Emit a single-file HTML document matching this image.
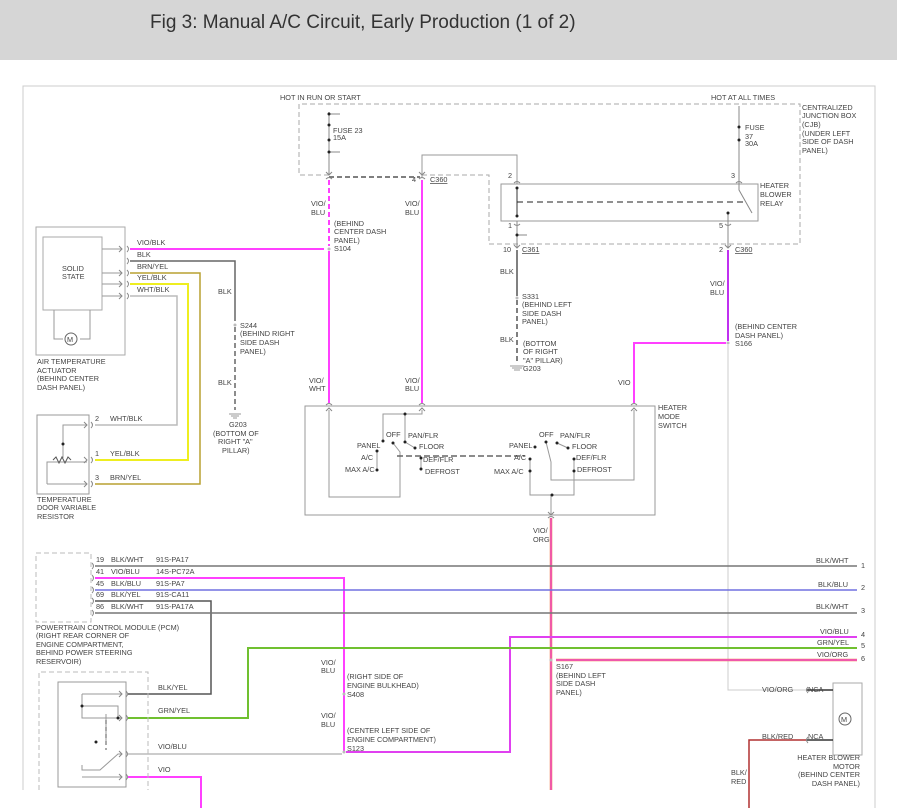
<!DOCTYPE html>
<html><head><meta charset="utf-8"><style>
html,body{margin:0;padding:0;background:#fff;}
.hdr{position:absolute;left:0;top:0;width:897px;height:60px;background:#d6d6d6;}
.hdr span{position:absolute;left:150px;top:12px;font:19px "Liberation Sans",sans-serif;color:#333;}
svg{position:absolute;left:0;top:0;}
text{font-family:"Liberation Sans",sans-serif;font-size:7.3px;fill:#444;}
</style></head><body>
<div class="hdr"><span>Fig 3: Manual A/C Circuit, Early Production (1 of 2)</span></div>
<svg width="897" height="808" viewBox="0 0 897 808">
<g fill="none" stroke-width="1">
<path d="M23 790 V86 H875 V808" stroke="#ccc"/>
<path d="M329 175 H299 V104 H800 V244 H489 V175 H420" stroke="#aaa" stroke-dasharray="5,3"/>
<path d="M329 177 H420" stroke="#555" stroke-width="1.5" stroke-dasharray="5,3"/>
<path d="M329 112 V175 M329 114 H340 M329 152 H340" stroke="#888"/>
<path d="M422 178 V155 H517 V184" stroke="#999"/>
<path d="M329 180 V246" stroke="#ff40ff" stroke-width="2" stroke-dasharray="5,3"/>
<path d="M329 251 V403" stroke="#ff40ff" stroke-width="2"/>
<path d="M422 180 V403" stroke="#ff40ff" stroke-width="2"/>
<rect x="501" y="184" width="257" height="37" stroke="#999"/>
<path d="M517 188 V216" stroke="#333"/>
<path d="M517 202 H745" stroke="#222" stroke-dasharray="6,4"/>
<path d="M739 106 V190 L752 213 M728 213 V248 M517 221 V248 M517 235 H527" stroke="#888"/>
<path d="M517 250 V296" stroke="#555" stroke-width="1.5"/>
<path d="M517 300 V363" stroke="#555" stroke-width="1.5" stroke-dasharray="5,3"/>
<path d="M510 366 H524 M512 368 H522 M514 370 H520" stroke="#999"/>
<path d="M728 250 V341" stroke="#c030f0" stroke-width="2"/>
<path d="M726 343 H634 V403" stroke="#ff40ff" stroke-width="2"/>
<path d="M728 345 V690 H806" stroke="#ccc"/>
<rect x="36" y="227" width="89" height="128" stroke="#aaa"/>
<rect x="43" y="237" width="59" height="73" stroke="#aaa"/>
<path d="M54 310 V339 H63 M90 310 V339 H80 M102 249 H122 M102 273 H122 M102 284 H122 M102 296 H122" stroke="#999"/>
<circle cx="71" cy="339" r="6" stroke="#666"/>
<path d="M130 249 H324" stroke="#ff40ff" stroke-width="2"/>
<path d="M130 261 H235 V321" stroke="#666" stroke-width="1.5"/>
<path d="M235 327 V410" stroke="#666" stroke-width="1.5" stroke-dasharray="5,3"/>
<path d="M229 414 H241 M231 416 H239 M233 418 H237" stroke="#999"/>
<path d="M130 273 H200 V484 H95" stroke="#b8a030" stroke-width="1.5"/>
<path d="M130 284 H188 V460 H95" stroke="#eeee20" stroke-width="2"/>
<path d="M130 296 H177 V425 H95" stroke="#bbb" stroke-width="1.5"/>
<rect x="37" y="415" width="52" height="79" stroke="#999"/>
<path d="M87 425 H63 V458 M47 484 H87 M47 484 V462 H87" stroke="#999"/>
<path d="M53 460 l3 -3 l3 6 l3 -6 l3 6 l3 -6 l3 3" stroke="#555"/>
<rect x="305" y="406" width="350" height="109" stroke="#999"/>
<path d="M329 410 V497 H400 V452 L393 443 M422 410 V414 H383 V441 M405 414 V442 L415 448" stroke="#999"/>
<path d="M397 456 H525" stroke="#666" stroke-width="1.5" stroke-dasharray="6,3"/>
<path d="M377 451 V470 M421 458 V469" stroke="#999"/>
<path d="M634 410 V480 H551 V462 L546 442 M530 459 V495 H574 V459 M551 495 V515 M557 443 L568 448" stroke="#999"/>
<path d="M551 518 V790" stroke="#f08050" stroke-width="2.5"/>
<path d="M551 518 V790" stroke="#f040e0" stroke-width="1.2"/>
<rect x="36" y="553" width="55" height="69" stroke="#bbb" stroke-dasharray="5,3"/>
<path d="M95 566 H857" stroke="#777" stroke-width="1.5"/>
<path d="M95 578 H344 V752" stroke="#ff40ff" stroke-width="2"/>
<path d="M95 590 H857" stroke="#7070e0" stroke-width="1.5"/>
<path d="M95 601 H211 V694 H128" stroke="#555" stroke-width="1.5"/>
<path d="M95 613 H857" stroke="#777" stroke-width="1.5"/>
<path d="M857 637 H510 V752 H346" stroke="#e040f0" stroke-width="2"/>
<path d="M857 648 H248 V718 H128" stroke="#70c030" stroke-width="2"/>
<path d="M857 660 H556" stroke="#f08050" stroke-width="2.5"/>
<path d="M857 660 H556" stroke="#f040e0" stroke-width="1.2"/>
<path d="M128 754 H342" stroke="#bbb" stroke-width="1.5"/>
<path d="M128 777 H201 V808" stroke="#ff40ff" stroke-width="2"/>
<path d="M39 790 V672 H148 V790" stroke="#bbb" stroke-dasharray="5,3"/>
<rect x="58" y="682" width="68" height="105" stroke="#999"/>
<path d="M82 694 H122 M82 694 V718 H122 M82 706 H118 V718 M106 714 V744 M82 765 V770 H100 L118 754 H122 M82 777 H122" stroke="#999"/>
<path d="M106 720 V750" stroke="#555" stroke-dasharray="4,3"/>
<rect x="833" y="683" width="29" height="72" stroke="#aaa"/>
<circle cx="845" cy="719" r="6" stroke="#666"/>
<path d="M806 690 H833 M806 740 H833" stroke="#333" stroke-width="1.5"/>
<path d="M806 740 H749 V808" stroke="#b03030" stroke-width="1.5"/>
<!-- chevrons -->
<g stroke="#888">
<path d="M326 172 l3 3 l3 -3 M326 179 q3 -3 6 0 M419 172 l3 3 l3 -3 M419 179 q3 -3 6 0"/>
<path d="M514 183 q3 -3 6 0 M736 183 q3 -3 6 0 M514 224 q3 3 6 0 M725 224 q3 3 6 0"/>
<path d="M514 245 l3 3 l3 -3 M725 245 l3 3 l3 -3"/>
<path d="M326 405 q3 -3 6 0 M326 411 l3 -3 l3 3 M419 405 q3 -3 6 0 M419 411 l3 -3 l3 3 M631 405 q3 -3 6 0 M631 411 l3 -3 l3 3"/>
<path d="M548 512 l3 3 l3 -3 M548 518 q3 -3 6 0"/>
<path d="M119 246 l3 3 l-3 3 M119 270 l3 3 l-3 3 M119 281 l3 3 l-3 3 M119 293 l3 3 l-3 3 M127 246 q3 3 0 6 M127 258 q3 3 0 6 M127 270 q3 3 0 6 M127 281 q3 3 0 6 M127 293 q3 3 0 6"/>
<path d="M84 422 l3 3 l-3 3 M84 457 l3 3 l-3 3 M84 481 l3 3 l-3 3 M91 422 q3 3 0 6 M91 457 q3 3 0 6 M91 481 q3 3 0 6"/>
<path d="M92 563 q3 3 0 6 M92 575 q3 3 0 6 M92 587 q3 3 0 6 M92 598 q3 3 0 6 M92 610 q3 3 0 6"/>
<path d="M119 691 l3 3 l-3 3 M119 715 l3 3 l-3 3 M119 751 l3 3 l-3 3 M119 774 l3 3 l-3 3 M126 691 q3 3 0 6 M126 715 q3 3 0 6 M126 751 q3 3 0 6 M126 774 q3 3 0 6"/>
<path d="M808 687 q-3 3 0 6 M808 737 q-3 3 0 6"/>
</g>
</g>
<g fill="#222">
<circle cx="329" cy="114" r="1.5"/><circle cx="329" cy="125" r="1.5"/><circle cx="329" cy="140" r="1.5"/><circle cx="329" cy="152" r="1.5"/>
<circle cx="739" cy="127" r="1.5"/><circle cx="739" cy="140" r="1.5"/><circle cx="517" cy="188" r="1.5"/><circle cx="517" cy="216" r="1.5"/><circle cx="728" cy="213" r="1.5"/><circle cx="517" cy="235" r="1.5"/>
<circle cx="63" cy="444" r="1.5"/>
<circle cx="383" cy="441" r="1.5"/><circle cx="377" cy="451" r="1.5"/><circle cx="377" cy="470" r="1.5"/><circle cx="393" cy="443" r="1.5"/><circle cx="405" cy="414" r="1.5"/><circle cx="405" cy="442" r="1.5"/><circle cx="415" cy="448" r="1.5"/><circle cx="421" cy="458" r="1.5"/><circle cx="421" cy="469" r="1.5"/>
<circle cx="535" cy="447" r="1.5"/><circle cx="546" cy="442" r="1.5"/><circle cx="557" cy="443" r="1.5"/><circle cx="568" cy="448" r="1.5"/><circle cx="530" cy="459" r="1.5"/><circle cx="530" cy="471" r="1.5"/><circle cx="574" cy="459" r="1.5"/><circle cx="574" cy="471" r="1.5"/><circle cx="552" cy="495" r="1.5"/>
<circle cx="82" cy="706" r="1.5"/><circle cx="118" cy="718" r="1.5"/><circle cx="96" cy="742" r="1.5"/>
</g>
<g fill="#bbb"><circle cx="329" cy="249" r="1.5"/><circle cx="235" cy="325" r="1.5"/><circle cx="517" cy="298" r="1.5"/><circle cx="728" cy="343" r="1.5"/><circle cx="344" cy="694" r="1.5"/><circle cx="344" cy="752" r="1.5"/><circle cx="551" cy="660" r="1.5"/></g>
<text x="280" y="100">HOT IN RUN OR START</text>
<text x="333" y="133">FUSE 23</text><text x="333" y="140">15A</text>
<text x="311" y="206">VIO/</text><text x="311" y="215">BLU</text>
<text x="334" y="226">(BEHIND</text><text x="334" y="234">CENTER DASH</text><text x="334" y="243">PANEL)</text><text x="334" y="251">S104</text>
<text x="405" y="206">VIO/</text><text x="405" y="215">BLU</text>
<text x="412" y="182">4</text><text x="430" y="182" text-decoration="underline">C360</text>
<text x="711" y="100">HOT AT ALL TIMES</text>
<text x="745" y="130">FUSE</text><text x="745" y="139">37</text><text x="745" y="146">30A</text>
<text x="802" y="110">CENTRALIZED</text><text x="802" y="118">JUNCTION BOX</text><text x="802" y="127">(CJB)</text><text x="802" y="136">(UNDER LEFT</text><text x="802" y="144">SIDE OF DASH</text><text x="802" y="153">PANEL)</text>
<text x="508" y="178">2</text><text x="731" y="178">3</text>
<text x="760" y="188">HEATER</text><text x="760" y="197">BLOWER</text><text x="760" y="206">RELAY</text>
<text x="508" y="228">1</text><text x="719" y="228">5</text>
<text x="503" y="252">10</text><text x="522" y="252" text-decoration="underline">C361</text>
<text x="719" y="252">2</text><text x="735" y="252" text-decoration="underline">C360</text>
<text x="500" y="274">BLK</text>
<text x="522" y="299">S331</text><text x="522" y="307">(BEHIND LEFT</text><text x="522" y="316">SIDE DASH</text><text x="522" y="324">PANEL)</text>
<text x="500" y="342">BLK</text>
<text x="523" y="346">(BOTTOM</text><text x="523" y="354">OF RIGHT</text><text x="523" y="363">"A" PILLAR)</text><text x="523" y="371">G203</text>
<text x="710" y="286">VIO/</text><text x="710" y="295">BLU</text>
<text x="735" y="329">(BEHIND CENTER</text><text x="735" y="338">DASH PANEL)</text><text x="735" y="346">S166</text>
<text x="618" y="385">VIO</text>
<text x="658" y="410">HEATER</text><text x="658" y="419">MODE</text><text x="658" y="428">SWITCH</text>
<text x="137" y="245">VIO/BLK</text><text x="137" y="257">BLK</text><text x="137" y="269">BRN/YEL</text><text x="137" y="280">YEL/BLK</text><text x="137" y="292">WHT/BLK</text>
<text x="62" y="271">SOLID</text><text x="62" y="279">STATE</text>
<text x="67" y="342" font-size="8">M</text>
<text x="37" y="364">AIR TEMPERATURE</text><text x="37" y="373">ACTUATOR</text><text x="37" y="381">(BEHIND CENTER</text><text x="37" y="390">DASH PANEL)</text>
<text x="218" y="294">BLK</text>
<text x="240" y="328">S244</text><text x="240" y="336">(BEHIND RIGHT</text><text x="240" y="345">SIDE DASH</text><text x="240" y="354">PANEL)</text>
<text x="218" y="385">BLK</text>
<text x="229" y="427">G203</text><text x="213" y="436">(BOTTOM OF</text><text x="218" y="444">RIGHT "A"</text><text x="222" y="453">PILLAR)</text>
<text x="309" y="383">VIO/</text><text x="309" y="391">WHT</text><text x="405" y="383">VIO/</text><text x="405" y="391">BLU</text>
<text x="95" y="421">2</text><text x="110" y="421">WHT/BLK</text>
<text x="95" y="456">1</text><text x="110" y="456">YEL/BLK</text>
<text x="95" y="480">3</text><text x="110" y="480">BRN/YEL</text>
<text x="37" y="502">TEMPERATURE</text><text x="37" y="510">DOOR VARIABLE</text><text x="37" y="519">RESISTOR</text>
<text x="386" y="437">OFF</text><text x="408" y="438">PAN/FLR</text><text x="357" y="448">PANEL</text><text x="419" y="449">FLOOR</text><text x="361" y="460">A/C</text><text x="423" y="462">DEF/FLR</text><text x="345" y="472">MAX A/C</text><text x="425" y="474">DEFROST</text>
<text x="539" y="437">OFF</text><text x="560" y="438">PAN/FLR</text><text x="509" y="448">PANEL</text><text x="572" y="449">FLOOR</text><text x="514" y="460">A/C</text><text x="576" y="460">DEF/FLR</text><text x="494" y="474">MAX A/C</text><text x="577" y="472">DEFROST</text>
<text x="533" y="533">VIO/</text><text x="533" y="542">ORG</text>
<text x="96" y="562">19</text><text x="111" y="562">BLK/WHT</text><text x="156" y="562">91S-PA17</text>
<text x="96" y="574">41</text><text x="111" y="574">VIO/BLU</text><text x="156" y="574">14S-PC72A</text>
<text x="96" y="586">45</text><text x="111" y="586">BLK/BLU</text><text x="156" y="586">91S-PA7</text>
<text x="96" y="597">69</text><text x="111" y="597">BLK/YEL</text><text x="156" y="597">91S-CA11</text>
<text x="96" y="609">86</text><text x="111" y="609">BLK/WHT</text><text x="156" y="609">91S-PA17A</text>
<text x="816" y="563">BLK/WHT</text><text x="861" y="568">1</text>
<text x="818" y="587">BLK/BLU</text><text x="861" y="590">2</text>
<text x="816" y="609">BLK/WHT</text><text x="861" y="613">3</text>
<text x="820" y="634">VIO/BLU</text><text x="861" y="637">4</text>
<text x="817" y="645">GRN/YEL</text><text x="861" y="648">5</text>
<text x="817" y="657">VIO/ORG</text><text x="861" y="661">6</text>
<text x="36" y="630">POWERTRAIN CONTROL MODULE (PCM)</text><text x="36" y="638">(RIGHT REAR CORNER OF</text><text x="36" y="647">ENGINE COMPARTMENT,</text><text x="36" y="655">BEHIND POWER STEERING</text><text x="36" y="664">RESERVOIR)</text>
<text x="158" y="690">BLK/YEL</text><text x="158" y="713">GRN/YEL</text><text x="158" y="749">VIO/BLU</text><text x="158" y="772">VIO</text>
<text x="321" y="665">VIO/</text><text x="321" y="673">BLU</text>
<text x="347" y="679">(RIGHT SIDE OF</text><text x="347" y="688">ENGINE BULKHEAD)</text><text x="347" y="697">S408</text>
<text x="321" y="718">VIO/</text><text x="321" y="727">BLU</text>
<text x="347" y="733">(CENTER LEFT SIDE OF</text><text x="347" y="742">ENGINE COMPARTMENT)</text><text x="347" y="751">S123</text>
<text x="556" y="669">S167</text><text x="556" y="678">(BEHIND LEFT</text><text x="556" y="686">SIDE DASH</text><text x="556" y="695">PANEL)</text>
<text x="762" y="692">VIO/ORG</text><text x="808" y="692">NCA</text>
<text x="762" y="739">BLK/RED</text><text x="808" y="739">NCA</text>
<text x="731" y="775">BLK/</text><text x="731" y="784">RED</text>
<text x="841" y="722" font-size="8">M</text>
<text x="860" y="760" text-anchor="end">HEATER BLOWER</text><text x="860" y="769" text-anchor="end">MOTOR</text><text x="860" y="777" text-anchor="end">(BEHIND CENTER</text><text x="860" y="786" text-anchor="end">DASH PANEL)</text>
</svg>
</body></html>
